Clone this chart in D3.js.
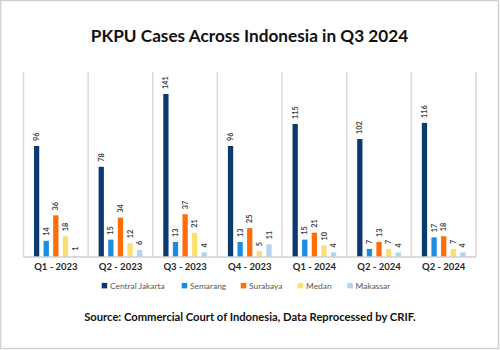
<!DOCTYPE html>
<html><head><meta charset="utf-8">
<script src="https://cdn.jsdelivr.net/npm/d3@7"></script>
<style>body{margin:0;background:#fff}svg{display:block}text{font-family:Lato,"Liberation Sans",sans-serif}</style>
</head><body>
<svg id="c" width="500" height="350"></svg>
<script>
const categories = ["Q1 - 2023","Q2 - 2023","Q3 - 2023","Q4 - 2023","Q1 - 2024","Q2 - 2024","Q2 - 2024 "];
const series = ["Central Jakarta","Semarang","Surabaya","Medan","Makassar"];
const centralJakarta = [96,78,141,96,115,102,116];
const semarang = [14,15,13,13,15,7,17];
const surabaya = [36,34,37,25,21,13,18];
const medan = [18,12,21,5,10,7,7];
const makassar = [1,6,4,11,4,4,4];
const colors = ["#0d3a6e","#1a8de0","#ff6d0a","#f9e071","#b2d4f2"];
const values = [centralJakarta, semarang, surabaya, medan, makassar];
const title = "PKPU Cases Across Indonesia in Q3 2024";
const source = "Source: Commercial Court of Indonesia, Data Reprocessed by CRIF.";

const svg = d3.select("#c");
svg.append("rect").attr("x",0.5).attr("y",0.5).attr("width",498).attr("height",348)
  .attr("fill","#fff").attr("stroke","#d0d0d0").attr("stroke-width",1.5);

const L=23.5, R=476, T=72, B=257;
const x0 = d3.scaleBand().domain(categories).range([L,R]).padding(0);
const x1 = d3.scaleBand().domain(series).range([0,x0.bandwidth()]).paddingInner(0.45).paddingOuter(1.09);
const y = d3.scaleLinear().domain([0,160]).range([B,T]);

// category separators
svg.append("g").selectAll("line").data(d3.range(categories.length+1)).join("line")
  .attr("x1",i=>L+i*x0.step()).attr("x2",i=>L+i*x0.step())
  .attr("y1",T).attr("y2",B).attr("stroke","#d9d9d9").attr("stroke-width",1.5);

const data = [];
categories.forEach((c,ci)=>series.forEach((s,si)=>data.push({c,s,si,v:values[si][ci]})));

svg.append("g").selectAll("rect").data(data).join("rect")
  .attr("x",d=>x0(d.c)+x1(d.s)).attr("width",x1.bandwidth())
  .attr("y",d=>y(d.v)).attr("height",d=>B-y(d.v))
  .attr("fill",d=>colors[d.si]);

svg.append("g").selectAll("text").data(data).join("text")
  .attr("transform",d=>`translate(${x0(d.c)+x1(d.s)+x1.bandwidth()/2+2.6},${y(d.v)-5}) rotate(-90)`)
  .attr("font-size",7.3).attr("font-weight","bold").attr("fill","#404040")
  .text(d=>d.v);

// baseline
svg.append("line").attr("x1",L).attr("x2",R).attr("y1",B).attr("y2",B)
  .attr("stroke","#d0d0d0").attr("stroke-width",1.5);

// x axis labels
const xAxis = d3.axisBottom(x0).tickSize(0).tickPadding(6);
const gx = svg.append("g").attr("transform",`translate(0,${B})`).call(xAxis);
gx.select(".domain").remove();
gx.selectAll("text").attr("font-size",9.5).attr("font-weight","bold").attr("fill","#262626")
  .style("font-family","Lato, 'Liberation Sans', sans-serif");

// title
svg.append("text").attr("x",249.5).attr("y",41.5).attr("text-anchor","middle")
  .attr("font-size",17.2).attr("font-weight","bold").attr("fill","#111").text(title);

// legend
const legendX = [101.7,181.7,240.7,297.7,347.3];
const lg = svg.append("g").selectAll("g").data(series).join("g")
  .attr("transform",(d,i)=>`translate(${legendX[i]},285.7)`);
lg.append("rect").attr("x",0).attr("y",-2.8).attr("width",5.5).attr("height",5.5).attr("fill",(d,i)=>colors[i]);
lg.append("text").attr("x",8.3).attr("y",3).attr("font-size",8.4).attr("fill","#595959").text(d=>d);

// source
svg.append("text").attr("x",250).attr("y",321).attr("text-anchor","middle")
  .attr("font-size",11.2).attr("font-weight","bold").attr("fill","#111").text(source);
</script>
</body></html>
